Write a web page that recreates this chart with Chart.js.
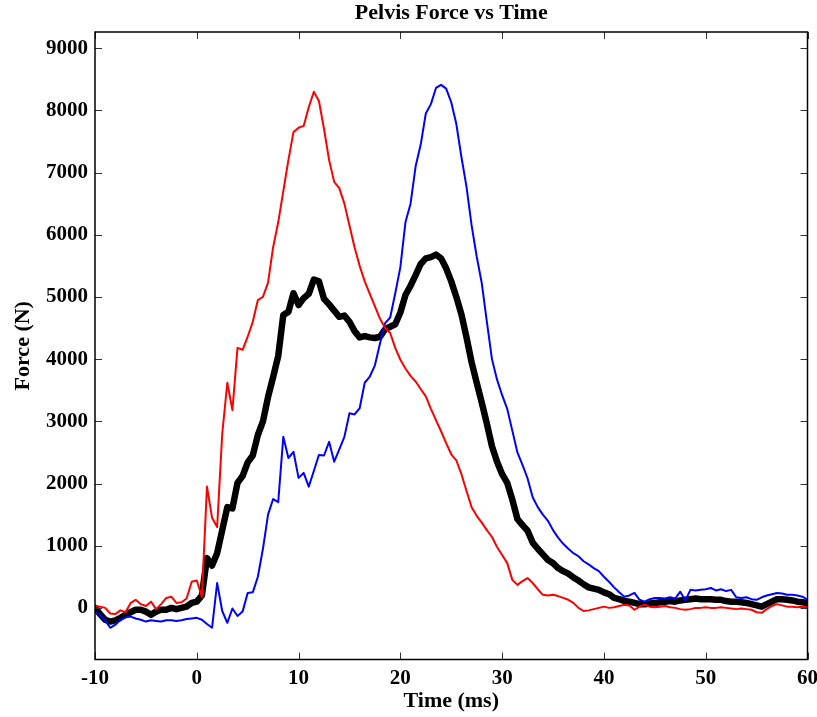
<!DOCTYPE html>
<html>
<head>
<meta charset="utf-8">
<script src="https://cdn.jsdelivr.net/npm/chart.js@4.4.1/dist/chart.umd.min.js"></script>
<style>
  body { margin: 0; background: #fff; }
  canvas { display: block; }
</style>
</head>
<body>
<canvas id="myChart" width="817" height="717"></canvas>
<script>

// time in ms, every 0.5 ms
let time = [
  -10, -9.5, -9, -8.5, -8, -7.5, -7, -6.5, -6, -5.5, -5, -4.5, -4, -3.5, -3, -2.5, -2, -1.5, -1, -0.5,
  0, 0.5, 1, 1.5, 2, 2.5, 3, 3.5, 4, 4.5, 5, 5.5, 6, 6.5, 7, 7.5, 8, 8.5, 9, 9.5,
  10, 10.5, 11, 11.5, 12, 12.5, 13, 13.5, 14, 14.5, 15, 15.5, 16, 16.5, 17, 17.5, 18, 18.5, 19, 19.5,
  20, 20.5, 21, 21.5, 22, 22.5, 23, 23.5, 24, 24.5, 25, 25.5, 26, 26.5, 27, 27.5, 28, 28.5, 29, 29.5,
  30, 30.5, 31, 31.5, 32, 32.5, 33, 33.5, 34, 34.5, 35, 35.5, 36, 36.5, 37, 37.5, 38, 38.5, 39, 39.5,
  40, 40.5, 41, 41.5, 42, 42.5, 43, 43.5, 44, 44.5, 45, 45.5, 46, 46.5, 47, 47.5, 48, 48.5, 49, 49.5,
  50, 50.5, 51, 51.5, 52, 52.5, 53, 53.5, 54, 54.5, 55, 55.5, 56, 56.5, 57, 57.5, 58, 58.5, 59, 59.5, 60
];

// force in N
let red_force = [
  30, 20, 0, -90, -100, -40, -70, 80, 130, 60, 30, 100, -20, 60, 160, 180, 80, 90, 150, 420,
  440, 180, 1950, 1450, 1300, 2800, 3620, 3180, 4180, 4150, 4360, 4600, 4950, 5000, 5230, 5800, 6200, 6700, 7200, 7650,
  7720, 7750, 8050, 8300, 8150, 7700, 7200, 6850, 6750, 6500, 6150, 5800, 5500, 5250, 5050, 4850, 4650, 4500, 4420, 4180,
  3990, 3850, 3730, 3640, 3520, 3400, 3200, 3020, 2840, 2650, 2470, 2370, 2150, 1880, 1620, 1480, 1370, 1250, 1140, 980,
  850, 720, 450, 370, 430, 480, 400, 300, 210, 200, 210, 190, 160, 130, 80, 0, -50, -40, -20, 0,
  20, 0, 10, 30, 50, 40, -30, 20, 50, 20, 10, 20, 30, 10, 0, -20, -30, -20, 0, 0,
  10, 0, 0, 10, 0, -10, -20, -10, -20, -30, -70, -80, -20, 30, 60, 40, 20, 20, 10, 20, 15
];

let blue_force = [
  -60, -120, -200, -320, -270, -190, -150, -140, -170, -190, -220, -200, -210, -220, -200, -200, -210, -200, -180, -170,
  -160, -190, -260, -320, 400, -50, -240, -10, -130, -60, 240, 250, 500, 950, 1500, 1750, 1700, 2750, 2410, 2510,
  2090, 2170, 1950, 2200, 2460, 2450, 2670, 2350, 2550, 2750, 3130, 3110, 3210, 3620, 3720, 3900, 4250, 4580, 4670, 5060,
  5480, 6200, 6500, 7100, 7450, 7950, 8100, 8360, 8410, 8350, 8130, 7780, 7250, 6770, 6150, 5650, 5220, 4600, 4000, 3670,
  3420, 3200, 2850, 2500, 2300, 2080, 1780, 1620, 1500, 1400, 1250, 1130, 1030, 950, 880, 830, 750, 700, 640, 590,
  500, 420, 330, 250, 180, 200, 240, 130, 100, 140, 160, 160, 150, 170, 150, 260, 120, 290, 280, 290,
  300, 320, 280, 300, 270, 290, 170, 160, 170, 140, 130, 170, 200, 220, 240, 230, 210, 210, 200, 180, 130
];

let mean_force = [
  0, -100, -190, -220, -200, -160, -110, -70, -30, -30, -60, -110, -60, -30, -30, 0, -20, 0, 20, 80,
  100, 200, 800, 680, 880, 1250, 1620, 1600, 2010, 2120, 2340, 2450, 2780, 3000, 3390, 3710, 4050, 4710, 4760, 5060,
  4870, 4980, 5050, 5280, 5250, 4970, 4880, 4780, 4680, 4700, 4600, 4450, 4350, 4370, 4350, 4340, 4360, 4480, 4520, 4560,
  4750, 5030, 5180, 5350, 5530, 5620, 5640, 5680, 5620, 5460, 5250, 5000, 4720, 4350, 3950, 3620, 3300, 2960, 2600, 2350,
  2150, 2010, 1740, 1430, 1330, 1240, 1050, 950, 860, 770, 720, 640, 590, 550, 490, 440, 380, 330, 310, 290,
  250, 220, 160, 140, 110, 100, 80, 60, 60, 70, 80, 90, 100, 110, 100, 120, 130, 140, 150, 140,
  140, 140, 130, 130, 110, 100, 100, 90, 80, 60, 40, 20, 60, 100, 140, 140, 130, 120, 100, 90, 80
];

let x_ticks = [-10, 0, 10, 20, 30, 40, 50, 60];
let y_ticks = [0, 1000, 2000, 3000, 4000, 5000, 6000, 7000, 8000, 9000];

function points(values) {
  return time.map((t, i) => ({ x: t, y: values[i] }));
}

let font_name = "'Liberation Serif', 'Times New Roman', serif";

// matlab style box with ticks pointing in
let box_plugin = {
  id: "box",
  afterDatasetsDraw(chart) {
    let ctx = chart.ctx;
    let area = chart.chartArea;
    let xs = chart.scales.x;
    let ys = chart.scales.y;
    let len = 7;
    ctx.save();
    ctx.strokeStyle = "#333";
    ctx.lineWidth = 1;
    ctx.beginPath();
    x_ticks.forEach((v) => {
      let px = Math.round(xs.getPixelForValue(v)) + 0.5;
      ctx.moveTo(px, area.bottom);
      ctx.lineTo(px, area.bottom - len);
      ctx.moveTo(px, area.top);
      ctx.lineTo(px, area.top + len);
    });
    y_ticks.forEach((v) => {
      let py = Math.round(ys.getPixelForValue(v)) + 0.5;
      ctx.moveTo(area.left, py);
      ctx.lineTo(area.left + len, py);
      ctx.moveTo(area.right, py);
      ctx.lineTo(area.right - len, py);
    });
    ctx.stroke();
    ctx.strokeStyle = "#000";
    ctx.lineWidth = 1.5;
    ctx.strokeRect(area.left, area.top, area.right - area.left, area.bottom - area.top);
    ctx.restore();
  }
};

new Chart("myChart", {
  type: "line",
  data: {
    datasets: [
      { data: points(red_force), borderColor: "#ff0000", borderWidth: 2 },
      { data: points(blue_force), borderColor: "#0000ff", borderWidth: 2 },
      { data: points(mean_force), borderColor: "#000000", borderWidth: 6.5 }
    ]
  },
  options: {
    responsive: false,
    animation: false,
    layout: { padding: { left: 0, right: 9.5, top: 0, bottom: 0 } },
    elements: {
      point: { radius: 0 },
      line: { tension: 0, borderJoinStyle: "round", borderCapStyle: "round" }
    },
    plugins: {
      legend: { display: false },
      tooltip: { enabled: false },
      title: {
        display: true,
        fullSize: false,
        text: "Pelvis Force vs Time",
        color: "#000",
        font: { family: font_name, size: 22, weight: "bold" },
        padding: { top: 0, bottom: 5.6 }
      }
    },
    scales: {
      x: {
        type: "linear",
        min: -10,
        max: 60,
        afterBuildTicks: (axis) => { axis.ticks = x_ticks.map((v) => ({ value: v })); },
        afterFit: (scale) => {
          scale.height = 57.5;
          scale.paddingLeft = 0;
          scale.paddingRight = 0;
        },
        grid: { display: false, drawTicks: false },
        border: { display: false },
        ticks: {
          color: "#000",
          padding: 6,
          maxRotation: 0,
          callback: (v) => String(v),
          font: { family: font_name, size: 21, weight: "bold" }
        },
        title: {
          display: true,
          text: "Time (ms)",
          color: "#000",
          font: { family: font_name, size: 22, weight: "bold" },
          padding: { top: 0, bottom: 2 }
        }
      },
      y: {
        type: "linear",
        min: -830,
        max: 9260,
        afterBuildTicks: (axis) => { axis.ticks = y_ticks.map((v) => ({ value: v })); },
        afterFit: (scale) => { scale.width = 95; },
        grid: { display: false, drawTicks: false },
        border: { display: false },
        ticks: {
          color: "#000",
          padding: 7,
          callback: (v) => String(v),
          font: { family: font_name, size: 21, weight: "bold" }
        },
        title: {
          display: true,
          text: "Force (N)",
          color: "#000",
          font: { family: font_name, size: 22, weight: "bold" },
          padding: { top: 10, bottom: 0 }
        }
      }
    }
  },
  plugins: [box_plugin]
});

</script>
</body>
</html>
